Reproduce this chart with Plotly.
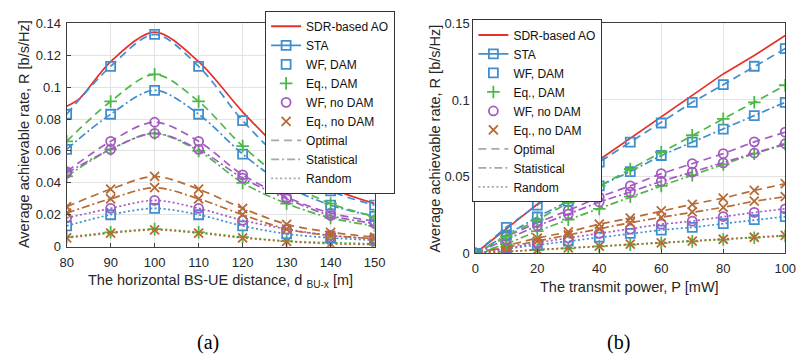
import plotly.graph_objects as go

# ---------------- data: (a) horizontal distance ----------------
dist = [80, 90, 100, 110, 120, 130, 140, 150]
sdr_dist_x = [80, 83, 90, 100, 110, 120, 130, 140, 150]
sdr_dist = [0.088, 0.093, 0.116, 0.1345, 0.116, 0.0845, 0.057, 0.037, 0.027]
sta_dist = [0.083, 0.113, 0.133, 0.113, 0.079, 0.052, 0.035, 0.026]
wf_dam_stat_dist = [0.061, 0.083, 0.098, 0.083, 0.058, 0.038, 0.026, 0.019]
wf_dam_rand_dist = [0.013, 0.020, 0.024, 0.020, 0.013, 0.008, 0.0055, 0.004]
eq_dam_opt_dist = [0.066, 0.091, 0.108, 0.091, 0.063, 0.041, 0.027, 0.019]
eq_dam_stat_dist = [0.044, 0.061, 0.071, 0.060, 0.040, 0.027, 0.018, 0.013]
eq_dam_rand_dist = [0.006, 0.009, 0.011, 0.009, 0.006, 0.0035, 0.0025, 0.0018]
wf_nodam_opt_dist = [0.047, 0.066, 0.078, 0.066, 0.045, 0.031, 0.021, 0.016]
wf_nodam_stat_dist = [0.046, 0.061, 0.071, 0.061, 0.043, 0.030, 0.0195, 0.0145]
wf_nodam_rand_dist = [0.018, 0.024, 0.029, 0.024, 0.0165, 0.011, 0.007, 0.005]
eq_nodam_opt_dist = [0.025, 0.036, 0.044, 0.036, 0.024, 0.014, 0.009, 0.006]
eq_nodam_stat_dist = [0.021, 0.030, 0.037, 0.030, 0.020, 0.011, 0.007, 0.005]
eq_nodam_rand_dist = [0.0055, 0.0085, 0.0105, 0.0085, 0.0055, 0.0033, 0.0018, 0.0014]

# ---------------- data: (b) transmit power ----------------
power = [0, 10, 20, 30, 40, 50, 60, 70, 80, 90, 100]
sdr_pow = [0, 0.016, 0.032, 0.047, 0.061, 0.075, 0.089, 0.103, 0.117, 0.129, 0.142]
sta_pow = [0, 0.017, 0.0315, 0.046, 0.0595, 0.0725, 0.085, 0.0985, 0.110, 0.122, 0.1335]
wf_dam_stat_pow = [0, 0.012, 0.0237, 0.034, 0.044, 0.0533, 0.0638, 0.0725, 0.081, 0.0898, 0.0985]
wf_dam_rand_pow = [0, 0.003, 0.0055, 0.008, 0.0106, 0.013, 0.0152, 0.017, 0.0194, 0.022, 0.024]
eq_dam_opt_pow = [0, 0.011, 0.022, 0.033, 0.044, 0.055, 0.066, 0.077, 0.0877, 0.0985, 0.1096]
eq_dam_stat_pow = [0, 0.006, 0.0145, 0.022, 0.029, 0.037, 0.044, 0.051, 0.058, 0.065, 0.071]
eq_dam_rand_pow = [0, 0.0011, 0.0022, 0.0033, 0.0045, 0.0057, 0.0067, 0.0078, 0.009, 0.0102, 0.0113]
wf_nodam_opt_pow = [0, 0.011, 0.020, 0.028, 0.0367, 0.044, 0.052, 0.0585, 0.065, 0.0727, 0.079]
wf_nodam_stat_pow = [0, 0.009, 0.018, 0.0256, 0.0335, 0.040, 0.047, 0.053, 0.059, 0.0654, 0.0715]
wf_nodam_rand_pow = [0, 0.003, 0.007, 0.010, 0.013, 0.0158, 0.019, 0.021, 0.024, 0.0267, 0.029]
eq_nodam_opt_pow = [0, 0.005, 0.010, 0.014, 0.019, 0.023, 0.0277, 0.032, 0.036, 0.041, 0.0454]
eq_nodam_stat_pow = [0, 0.004, 0.008, 0.012, 0.016, 0.020, 0.0235, 0.027, 0.030, 0.034, 0.037]
eq_nodam_rand_pow = [0, 0.0012, 0.0023, 0.0035, 0.0047, 0.006, 0.0069, 0.008, 0.0092, 0.0105, 0.0117]

dist_ticks = [80, 90, 100, 110, 120, 130, 140, 150]
dist_rate_ticks = [0, 0.02, 0.04, 0.06, 0.08, 0.1, 0.12, 0.14]
dist_rate_labels = ["0", "0.02", "0.04", "0.06", "0.08", "0.1", "0.12", "0.14"]
power_ticks = [0, 20, 40, 60, 80, 100]
power_rate_ticks = [0, 0.05, 0.1, 0.15]
power_rate_labels = ["0", "0.05", "0.1", "0.15"]

legend_names = ["SDR-based AO", "STA", "WF, DAM", "Eq., DAM", "WF, no DAM",
                "Eq., no DAM", "Optimal", "Statistical", "Random"]

# ---------------- styles ----------------
RED = "#E8302B"
BLUE = "#3F8ED0"
GREEN = "#4DB848"
PURPLE = "#A35BC2"
BROWN = "#B76A35"
GRAY = "#A8A8A8"
DASH = "8px,5px"
DASHDOT = "8px,3px,2px,3px"
DOT = "2px,2.5px"
FONT = "Liberation Sans, Arial, sans-serif"
SERIF = "Liberation Serif, Times New Roman, serif"
TXT = "#262626"

fig = go.Figure()


def add(x, y, color, dash, symbol, xa, ya, shape="spline", markers=True):
    fig.add_trace(go.Scatter(
        x=x, y=y, mode="lines+markers" if markers else "lines",
        line=dict(color=color, width=1.7, dash=dash, shape=shape, smoothing=0.9),
        marker=dict(symbol=symbol, size=9, color=color,
                    line=dict(color=color, width=1.8)),
        xaxis=xa, yaxis=ya, showlegend=False, hoverinfo="skip"))


# (a)
add(sdr_dist_x, sdr_dist, RED, "solid", "circle", "x", "y", markers=False)
add(dist, eq_dam_rand_dist, GREEN, DOT, "cross-thin-open", "x", "y")
add(dist, eq_nodam_rand_dist, BROWN, DOT, "x-thin-open", "x", "y")
add(dist, wf_dam_rand_dist, BLUE, DOT, "square-open", "x", "y")
add(dist, wf_nodam_rand_dist, PURPLE, DOT, "circle-open", "x", "y")
add(dist, eq_nodam_stat_dist, BROWN, DASHDOT, "x-thin-open", "x", "y")
add(dist, eq_nodam_opt_dist, BROWN, DASH, "x-thin-open", "x", "y")
add(dist, eq_dam_stat_dist, GREEN, DASHDOT, "cross-thin-open", "x", "y")
add(dist, wf_nodam_stat_dist, PURPLE, DASHDOT, "circle-open", "x", "y")
add(dist, wf_nodam_opt_dist, PURPLE, DASH, "circle-open", "x", "y")
add(dist, wf_dam_stat_dist, BLUE, DASHDOT, "square-open", "x", "y")
add(dist, eq_dam_opt_dist, GREEN, DASH, "cross-thin-open", "x", "y")
add(dist, sta_dist, BLUE, DASH, "square-open", "x", "y")

# (b)
add(power, sdr_pow, RED, "solid", "circle", "x2", "y2", shape="linear", markers=False)
add(power, eq_dam_rand_pow, GREEN, DOT, "cross-thin-open", "x2", "y2", shape="linear")
add(power, eq_nodam_rand_pow, BROWN, DOT, "x-thin-open", "x2", "y2", shape="linear")
add(power, wf_dam_rand_pow, BLUE, DOT, "square-open", "x2", "y2", shape="linear")
add(power, wf_nodam_rand_pow, PURPLE, DOT, "circle-open", "x2", "y2", shape="linear")
add(power, eq_nodam_stat_pow, BROWN, DASHDOT, "x-thin-open", "x2", "y2", shape="linear")
add(power, eq_nodam_opt_pow, BROWN, DASH, "x-thin-open", "x2", "y2", shape="linear")
add(power, eq_dam_stat_pow, GREEN, DASHDOT, "cross-thin-open", "x2", "y2", shape="linear")
add(power, wf_nodam_stat_pow, PURPLE, DASHDOT, "circle-open", "x2", "y2", shape="linear")
add(power, wf_nodam_opt_pow, PURPLE, DASH, "circle-open", "x2", "y2", shape="linear")
add(power, wf_dam_stat_pow, BLUE, DASHDOT, "square-open", "x2", "y2", shape="linear")
add(power, eq_dam_opt_pow, GREEN, DASH, "cross-thin-open", "x2", "y2", shape="linear")
add(power, sta_pow, BLUE, DASH, "square-open", "x2", "y2", shape="linear")

# legend entries (styles only)
leg_styles = [
    dict(mode="lines", line=dict(color=RED, width=2)),
    dict(mode="lines+markers", line=dict(color=BLUE, width=1.7),
         marker=dict(symbol="square-open", size=9, color=BLUE, line=dict(width=1.8, color=BLUE))),
    dict(mode="markers", marker=dict(symbol="square-open", size=9, color=BLUE, line=dict(width=1.8, color=BLUE))),
    dict(mode="markers", marker=dict(symbol="cross-thin-open", size=9, color=GREEN, line=dict(width=1.8, color=GREEN))),
    dict(mode="markers", marker=dict(symbol="circle-open", size=9, color=PURPLE, line=dict(width=1.8, color=PURPLE))),
    dict(mode="markers", marker=dict(symbol="x-thin-open", size=9, color=BROWN, line=dict(width=1.8, color=BROWN))),
    dict(mode="lines", line=dict(color=GRAY, width=1.7, dash=DASH)),
    dict(mode="lines", line=dict(color=GRAY, width=1.7, dash=DASHDOT)),
    dict(mode="lines", line=dict(color=GRAY, width=1.7, dash=DOT)),
]
for lg, xa, ya in [("legend", "x", "y"), ("legend2", "x2", "y2")]:
    for name, st in zip(legend_names, leg_styles):
        fig.add_trace(go.Scatter(x=[None], y=[None], name=name, legend=lg,
                                 xaxis=xa, yaxis=ya, showlegend=True, **st))

W, H = 807, 362
axis_common = dict(showline=True, mirror=True, linecolor="#404040", linewidth=1,
                   ticks="inside", ticklen=4, tickcolor="#404040",
                   showgrid=True, gridcolor="#E3E3E3", gridwidth=1,
                   zeroline=False, tickfont=dict(family=FONT, size=13, color=TXT))

legend_common = dict(xanchor="left", yanchor="top", bgcolor="white",
                     bordercolor="#333333", borderwidth=1, tracegroupgap=0,
                     font=dict(family=FONT, size=12, color="#111111"),
                     itemwidth=30)


def note(text, x, y, angle=0, font=FONT, size=14.5, color=TXT):
    return dict(text=text, x=x / W, y=1 - y / H, xref="paper", yref="paper",
                xanchor="center", yanchor="middle", textangle=angle,
                showarrow=False, font=dict(family=font, size=size, color=color))


fig.update_layout(
    width=W, height=H, margin=dict(l=0, r=0, t=0, b=0),
    paper_bgcolor="white", plot_bgcolor="white",
    xaxis=dict(domain=[61 / W, 376 / W], range=[80, 150], tickvals=dist_ticks,
               anchor="y", ticklabelstandoff=4, **axis_common),
    yaxis=dict(domain=[(H - 250) / H, (H - 17) / H], range=[0, 0.14],
               tickvals=dist_rate_ticks, ticktext=dist_rate_labels,
               anchor="x", ticklabelstandoff=2, **axis_common),
    xaxis2=dict(domain=[479 / W, 796 / W], range=[0, 100], tickvals=power_ticks,
                anchor="y2", ticklabelstandoff=3, **axis_common),
    yaxis2=dict(domain=[(H - 257) / H, (H - 17) / H], range=[0, 0.15],
                tickvals=power_rate_ticks, ticktext=power_rate_labels,
                anchor="x2", ticklabelstandoff=2, **axis_common),
    legend=dict(x=264 / W, y=1 - 4 / H, **legend_common),
    legend2=dict(x=476 / W, y=1 - 13 / H, **legend_common),
    annotations=[
        note("Average achievable rate, R [b/s/Hz]", 18, 133, angle=-90),
        note("Average achievable rate, R [b/s/Hz]", 438, 137, angle=-90),
        note("The horizontal BS-UE distance, d <sub>BU-x</sub> [m]", 218, 286),
        note("The transmit power, P [mW]", 637, 292),
        note("(a)", 206, 350, font=SERIF, size=20, color="#000000"),
        note("(b)", 625, 350, font=SERIF, size=20, color="#000000"),
    ],
)

fig.write_html("out.html")
